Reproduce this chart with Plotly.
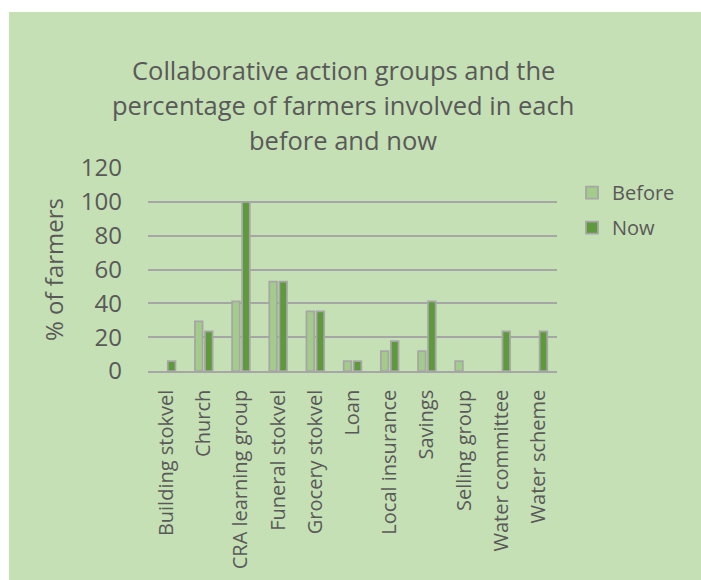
import plotly.graph_objects as go

# Share of farmers (%) taking part in each collaborative action group
categories = [
    "Building stokvel", "Church", "CRA learning group", "Funeral stokvel",
    "Grocery stokvel", "Loan", "Local insurance", "Savings",
    "Selling group", "Water committee", "Water scheme",
]
before = [0, 29.4, 41.2, 52.9, 35.3, 5.9, 11.8, 11.8, 5.9, 0, 0]
now = [5.9, 23.5, 100, 52.9, 35.3, 5.9, 17.6, 41.2, 0, 23.5, 23.5]
y_ticks = [0, 20, 40, 60, 80, 100, 120]
title_lines = [
    "Collaborative action groups and the",
    "percentage of farmers involved in each",
    "before and now",
]

W, H = 701, 580
L, R, T, B = 148, 144, 168, 209
PW, PH = W - L - R, H - T - B

TEXT = "#595959"
GRID = "#a6a6a6"
BG = "#c5e0b4"
FONT = "'Open Sans', sans-serif"


def px_x(px):
    return (px - L) / PW


def px_y(py):
    return (H - B - py) / PH


def bars(values):
    # groups with no members get no bar at all
    return [v if v else None for v in values]


fig = go.Figure()
fig.add_trace(go.Bar(
    name="Before", x=categories, y=bars(before), legendgroup="a",
    marker=dict(color="#a3cc8a", line=dict(color=GRID, width=1.75)),
))
fig.add_trace(go.Bar(
    name="Now", x=categories, y=bars(now), legendgroup="b",
    marker=dict(color="#5e9a3b", line=dict(color=GRID, width=1.75)),
))

title_y = [70, 105, 140]
annotations = [
    dict(
        text=line, xref="paper", yref="paper", x=px_x(343), y=px_y(yc),
        xanchor="center", yanchor="middle", showarrow=False,
        font=dict(size=25.5, color=TEXT, family=FONT),
    )
    for line, yc in zip(title_lines, title_y)
]

fig.update_layout(
    width=W, height=H,
    margin=dict(l=L, r=R, t=T, b=B, autoexpand=False),
    paper_bgcolor="white",
    plot_bgcolor="rgba(0,0,0,0)",
    barmode="group", bargap=0.46, bargroupgap=0.24,
    font=dict(family=FONT, color=TEXT),
    showlegend=True,
    legend=dict(
        x=px_x(572), y=px_y(173), xanchor="left", yanchor="top",
        bgcolor="rgba(0,0,0,0)", font=dict(size=20, color=TEXT),
        traceorder="grouped", tracegroupgap=6, itemwidth=30,
    ),
    shapes=[dict(
        type="rect", xref="paper", yref="paper", layer="below",
        x0=px_x(9), x1=px_x(W + 5), y0=px_y(H + 5), y1=px_y(12),
        fillcolor=BG, line=dict(width=0),
    )],
    annotations=annotations,
)

fig.update_xaxes(
    tickangle=-90, tickfont=dict(size=20, color=TEXT),
    showgrid=False, showline=True, linecolor=GRID, linewidth=1.5,
    ticks="", ticklabelstandoff=9, automargin=False,
)
fig.update_yaxes(
    range=[0, 120], tickvals=y_ticks, ticktext=[str(v) for v in y_ticks],
    tickfont=dict(size=24, color=TEXT),
    showgrid=True, gridcolor=GRID, gridwidth=1.5,
    zeroline=False, showline=False, ticks="", ticklabelstandoff=25,
    title=dict(text="% of farmers", font=dict(size=24, color=TEXT), standoff=10),
    automargin=False,
)

fig.write_html("out.html")
